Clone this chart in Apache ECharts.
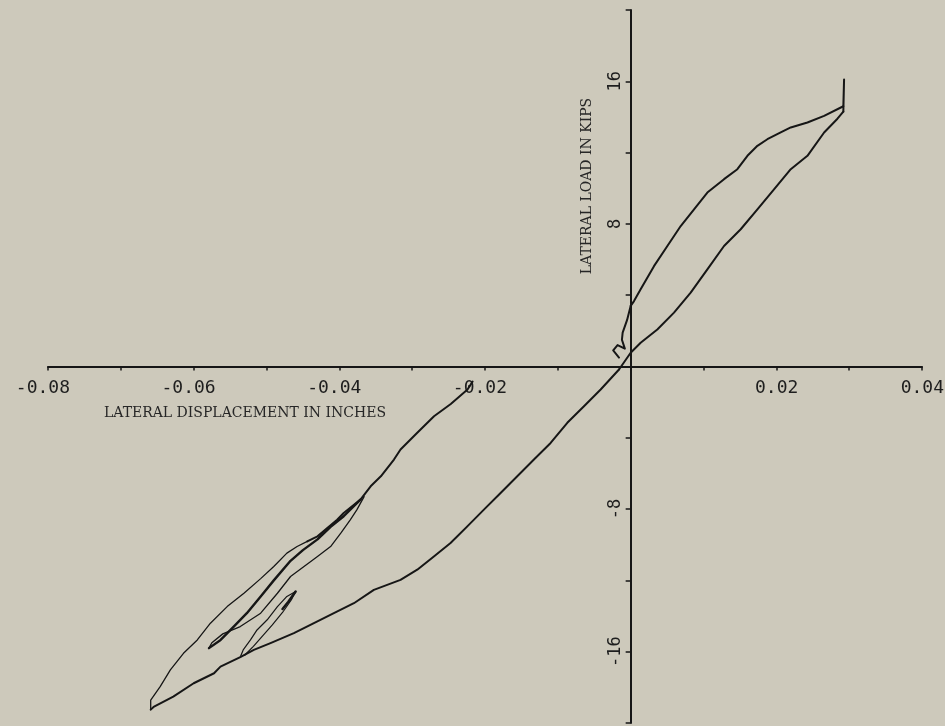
<!DOCTYPE html>
<html>
<head>
<meta charset="utf-8">
<script src="https://cdn.jsdelivr.net/npm/echarts@6/dist/echarts.min.js"></script>
<style>
html,body{margin:0;padding:0;background:#cdc9bb;}
#c{width:945px;height:726px;}
</style>
</head>
<body>
<div id="c"></div>
<script>
// ---- data (displacement in inches, load in kips) ----
const nearOrigin = [[-0.0016,0.5],[-0.0024,0.9],[-0.0018,1.2],[-0.0008,1.0],[-0.0012,1.5],[-0.0011,1.9],[-0.0005,2.6],[0.0000,3.4]];
const posUpper = [[0.0000,3.4],[0.00046,3.67],[0.00137,4.33],[0.0032,5.63],[0.00504,6.76],[0.00687,7.88],[0.0087,8.82],[0.01053,9.76],[0.01282,10.51],[0.01465,11.07],[0.01603,11.82],[0.0174,12.38],[0.01877,12.75],[0.0206,13.13],[0.02198,13.41],[0.02427,13.69],[0.02656,14.06],[0.0292,14.6]];
const posPeak = [[0.0292,14.6],[0.0293,16.1],[0.0291,16.1],[0.0293,16.0],[0.0292,14.3]];
const posLower = [[0.0292,14.3],[0.02839,13.9],[0.02656,13.13],[0.02427,11.82],[0.02198,11.07],[0.01968,9.94],[0.0174,8.82],[0.01511,7.70],[0.01282,6.76],[0.01053,5.45],[0.00824,4.14],[0.00595,3.02],[0.00366,2.08],[0.00137,1.33],[0.0000,0.77],[-0.0016,-0.17]];
const negLower = [[-0.0016,-0.17],[-0.00412,-1.29],[-0.00641,-2.23],[-0.0087,-3.16],[-0.01099,-4.29],[-0.01328,-5.22],[-0.01557,-6.16],[-0.01786,-7.10],[-0.02015,-8.03],[-0.02243,-8.97],[-0.02473,-9.90],[-0.02702,-10.66],[-0.0293,-11.40],[-0.0316,-11.97],[-0.03526,-12.53],[-0.038,-13.28],[-0.04075,-13.84],[-0.04349,-14.40],[-0.04624,-14.96],[-0.04945,-15.52],[-0.05174,-15.90],[-0.0536,-16.3],[-0.05632,-16.84],[-0.0572,-17.21],[-0.0600,-17.77],[-0.0628,-18.52],[-0.0655,-19.1],[-0.0659,-19.25]];
const outerUpper = [[-0.0659,-19.25],[-0.0659,-18.71],[-0.0646,-17.96],[-0.0632,-17.02],[-0.0614,-16.09],[-0.0595,-15.34],[-0.0577,-14.40],[-0.0554,-13.47],[-0.0531,-12.72],[-0.0508,-11.90],[-0.0490,-11.22],[-0.0472,-10.47],[-0.0458,-10.10],[-0.0444,-9.81]];
const negUpper = [[-0.0444,-9.81],[-0.0430,-9.53],[-0.0403,-8.60],[-0.0394,-8.22],[-0.0371,-7.47],[-0.0357,-6.72],[-0.0343,-6.16],[-0.0325,-5.22],[-0.0316,-4.66],[-0.0293,-3.72],[-0.0270,-2.79],[-0.0247,-2.10],[-0.0224,-1.29],[-0.0217,-0.84]];
const innerThick = [[-0.0371,-7.47],[-0.0394,-8.40],[-0.0412,-9.0],[-0.0430,-9.7],[-0.0450,-10.3],[-0.0467,-10.9],[-0.0490,-12.0],[-0.0508,-12.90],[-0.0527,-13.84],[-0.0545,-14.59],[-0.0563,-15.34],[-0.0579,-15.8]];
const innerReturn = [[-0.0579,-15.8],[-0.0575,-15.5],[-0.0560,-15.0],[-0.0536,-14.59],[-0.0508,-13.84],[-0.0485,-12.72],[-0.0467,-11.78],[-0.0430,-10.66],[-0.0412,-10.10],[-0.0398,-9.35],[-0.0385,-8.60],[-0.0376,-8.04],[-0.0366,-7.3]];
const chainLoop = [[-0.0536,-16.3],[-0.0532,-15.90],[-0.0522,-15.34],[-0.0513,-14.78],[-0.0499,-14.21],[-0.0485,-13.47],[-0.0472,-12.90],[-0.0460,-12.62],[-0.0466,-13.1],[-0.0478,-13.8],[-0.0492,-14.5],[-0.0505,-15.1],[-0.0518,-15.7],[-0.0530,-16.2]];
const chainTip = [[-0.0460,-12.62],[-0.0470,-13.2],[-0.0478,-13.6]];

const xTickValues = [-0.08, -0.06, -0.04, -0.02, 0.02, 0.04];
const xTickLabels = ["-0.08", "-0.06", "-0.04", "-0.02", "0.02", "0.04"];
const yTickValues = [16, 8, -8, -16];
const yTickLabels = ["16", "8", "-8", "-16"];
const xName = "LATERAL DISPLACEMENT IN INCHES";
const yName = "LATERAL LOAD IN KIPS";

const ink = '#161616';
function seg(data, w){
  return {type:'line', data:data, showSymbol:false, symbol:'none', smooth:false,
    lineStyle:{color:ink, width:w, join:'round', cap:'round'}, silent:true, animation:false, z:3};
}

const chart = echarts.init(document.getElementById('c'), null, {renderer:'canvas'});
chart.setOption({
  backgroundColor:'#cdc9bb',
  animation:false,
  grid:{left:48, right:23, top:10, bottom:3, containLabel:false, outerBoundsMode:'none'},
  xAxis:{
    type:'value', min:-0.08, max:0.04, interval:0.01,
    axisLine:{onZero:true, lineStyle:{color:ink, width:2}},
    axisTick:{show:true, length:4, lineStyle:{color:ink, width:1.5}},
    splitLine:{show:false},
    axisLabel:{show:false}
  },
  yAxis:{
    type:'value', min:-20, max:20, interval:4,
    axisLine:{onZero:true, lineStyle:{color:ink, width:2}},
    axisTick:{show:true, length:5, lineStyle:{color:ink, width:1.5}},
    splitLine:{show:false},
    axisLabel:{show:false}
  },
  series:[
    seg(nearOrigin, 2),
    seg(posUpper, 2),
    seg(posPeak, 2),
    seg(posLower, 2),
    seg(negLower, 2),
    seg(outerUpper, 1.3),
    seg(negUpper, 2),
    seg(innerThick, 2.4),
    seg(innerReturn, 1.3),
    seg(chainLoop, 1.2),
    seg(chainTip, 2.5)
  ]
});

// tick labels placed at the axis line (through the chart's own scales)
const graphics = [];
xTickValues.forEach(function(v, i){
  const p = chart.convertToPixel({xAxisIndex:0, yAxisIndex:0}, [v, 0]);
  graphics.push({type:'text', x:p[0] + 22, y:p[1] + 22, silent:true,
    style:{text:xTickLabels[i], font:'18px "DejaVu Sans Mono"', fill:'#1e1e1e', align:'right', verticalAlign:'middle'}});
});
yTickValues.forEach(function(v, i){
  const p = chart.convertToPixel({xAxisIndex:0, yAxisIndex:0}, [0, v]);
  graphics.push({type:'text', x:p[0] - 15, y:p[1], rotation:Math.PI/2, silent:true,
    style:{text:yTickLabels[i], font:'17px "DejaVu Sans Mono"', fill:'#1e1e1e', align:'center', verticalAlign:'middle'}});
});
const o = chart.convertToPixel({xAxisIndex:0, yAxisIndex:0}, [0, 0]);
graphics.push({type:'text', x:104, y:o[1] + 47, silent:true,
  style:{text:xName, font:'14px "DejaVu Serif"', fill:'#262626', align:'left', verticalAlign:'middle'}});
graphics.push({type:'text', x:o[0] - 43, y:186, rotation:Math.PI/2, silent:true,
  style:{text:yName, font:'14px "DejaVu Serif"', fill:'#262626', align:'center', verticalAlign:'middle'}});
chart.setOption({graphic:graphics});
</script>
</body>
</html>
